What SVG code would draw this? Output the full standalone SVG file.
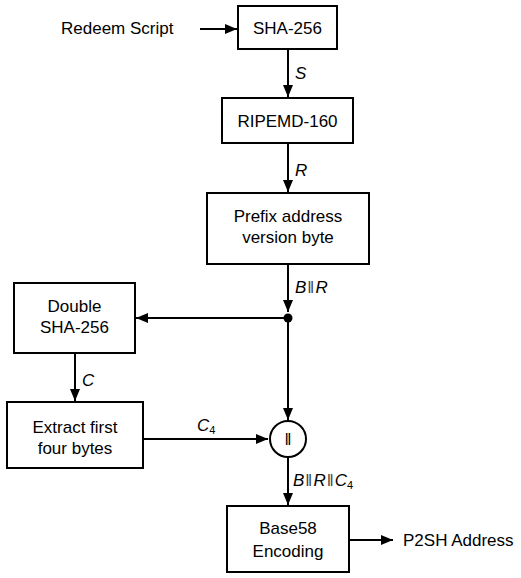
<svg xmlns="http://www.w3.org/2000/svg" width="521" height="578" viewBox="0 0 521 578">
<defs>
<marker id="ah" viewBox="0 0 12 10" refX="12" refY="5" markerWidth="12" markerHeight="10" markerUnits="userSpaceOnUse" orient="auto">
<path d="M0,0 L12,5 L0,10 Z" fill="#000"/>
</marker>
</defs>
<style>
.box{fill:#fff;stroke:#000;stroke-width:2}
.t{font-family:"Liberation Sans",Arial,sans-serif;font-size:17px;fill:#000}
.m{text-anchor:middle}
.i{font-style:italic}
.n{font-style:normal}
.c{fill:none;stroke:#000;stroke-width:2;marker-end:url(#ah)}
</style>
<rect width="521" height="578" fill="#fff"/>
<g id="connectors">
<line class="c" x1="200" y1="29" x2="237" y2="29"/>
<line class="c" x1="288" y1="49" x2="288" y2="97"/>
<line class="c" x1="288" y1="143" x2="288" y2="192"/>
<line class="c" x1="288" y1="264" x2="288" y2="312"/>
<line class="c" x1="288" y1="318" x2="136" y2="318"/>
<line class="c" x1="288" y1="318" x2="288" y2="420"/>
<line class="c" x1="75" y1="353" x2="75" y2="401"/>
<line class="c" x1="143" y1="439" x2="268" y2="439"/>
<line class="c" x1="288" y1="457" x2="288" y2="505"/>
<line class="c" x1="349" y1="540" x2="393" y2="540"/>
<circle cx="288" cy="318" r="4.5" fill="#000"/>
<text class="t i" x="295" y="79">S</text>
<text class="t i" x="295" y="176">R</text>
<text class="t i" x="295" y="293">B<tspan class="n" fill="#444" dx="1">‖</tspan><tspan dx="1">R</tspan></text>
<text class="t i" x="82" y="386">C</text>
<text class="t i" x="197" y="431">C<tspan font-size="11" class="n" dy="3">4</tspan></text>
<text class="t i" x="293" y="486">B<tspan class="n" fill="#444" dx="1">‖</tspan><tspan dx="1">R</tspan><tspan class="n" fill="#444" dx="1">‖</tspan><tspan dx="1">C</tspan><tspan font-size="11" class="n" dy="3">4</tspan></text>
</g>
<g id="redeem"><text class="t" x="61" y="34">Redeem Script</text></g>
<g id="sha256"><rect class="box" x="238" y="6" width="99" height="43"/><text class="t m" x="287.5" y="34">SHA-256</text></g>
<g id="ripemd"><rect class="box" x="222" y="98" width="131" height="45"/><text class="t m" x="287.5" y="127">RIPEMD-160</text></g>
<g id="prefix"><rect class="box" x="207" y="193" width="162" height="71"/><text class="t m" x="288" y="222">Prefix address</text><text class="t m" x="288" y="243">version byte</text></g>
<g id="double"><rect class="box" x="14" y="283" width="121" height="70"/><text class="t m" x="74.5" y="312">Double</text><text class="t m" x="74.5" y="333">SHA-256</text></g>
<g id="extract"><rect class="box" x="7" y="402" width="136" height="66"/><text class="t m" x="75" y="433">Extract first</text><text class="t m" x="75" y="454">four bytes</text></g>
<g id="concat"><circle cx="288" cy="439" r="18" fill="#fff" stroke="#000" stroke-width="2"/><text class="t m" x="288" y="445" fill="#555">‖</text></g>
<g id="base58"><rect class="box" x="227" y="506" width="122" height="66"/><text class="t m" x="288" y="534">Base58</text><text class="t m" x="288" y="557">Encoding</text></g>
<g id="p2sh"><text class="t" x="403" y="546">P2SH Address</text></g>
</svg>
